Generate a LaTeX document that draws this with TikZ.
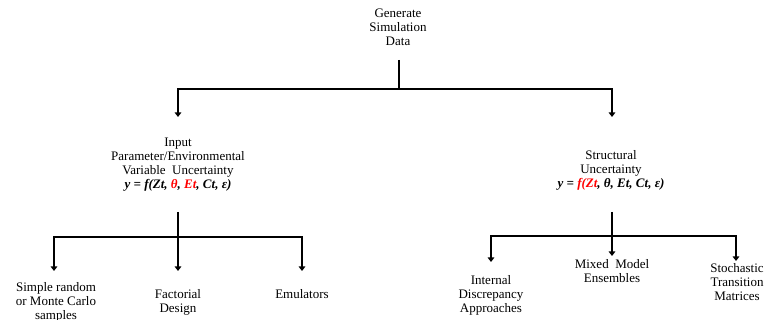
\documentclass[tikz,border=0pt]{standalone}
\usepackage{fontspec}
\setmainfont{Liberation Serif}
\usetikzlibrary{arrows.meta}
\tikzset{
  lbl/.style={align=center, inner sep=0pt, font=\fontsize{13}{14}\selectfont},
  ln/.style={line width=1.5pt},
  thk/.style={line width=2.5pt},
  arr/.style={line width=1.5pt, -{Triangle[width=6.5pt,length=4.5pt]}},
}
\begin{document}
\begin{tikzpicture}[x=1pt,y=-1pt]
\useasboundingbox (0,0) rectangle (764,320);
% nodes
\node[lbl] (g) at (398,27) {Generate\\Simulation\\Data};
\node[lbl] (inp) at (178,165) {Input\\Parameter/Environmental\\Variable\ \ Uncertainty\\\textbf{\textit{y = f(Zt, \textcolor{red}{θ}, \textcolor{red}{Et}, Ct, ε)}}};
\node[lbl] (str) at (611,170) {Structural\\Uncertainty\\\textbf{\textit{y = \textcolor{red}{f(Zt}, θ, Et, Ct, ε)}}};
\node[lbl] (a) at (56,302) {Simple random\\or Monte Carlo\\samples};
\node[lbl] (b) at (178,302) {Factorial\\Design};
\node[lbl] (c) at (302,294) {Emulators};
\node[lbl] (d) at (491,295) {Internal\\Discrepancy\\Approaches};
\node[lbl] (e) at (612,271) {Mixed\ \ Model\\Ensembles};
\node[lbl] (f) at (737,282) {Stochastic\\Transition\\Matrices};
% junctions and tips
\coordinate (j1) at (399,89);
\coordinate (s1) at (399,60);
\coordinate (t1) at (178,117);
\coordinate (t2) at (612,117);
\coordinate (jl) at (178,237);
\coordinate (sl) at (178,212);
\coordinate (jr) at (612,236);
\coordinate (sr) at (612,212);
\coordinate (ta) at (54,271);
\coordinate (tb) at (178,271);
\coordinate (tc) at (302,271);
\coordinate (td) at (491,262);
\coordinate (te) at (612,256);
\coordinate (tf) at (736,261);
% connectors
\draw[thk] (s1) -- (j1);
\draw[arr] (j1) -| (t1);
\draw[arr] (j1) -| (t2);
\draw[ln] (sl) -- (jl);
\draw[arr] (jl) -| (ta);
\draw[arr] (jl) -- (tb);
\draw[arr] (jl) -| (tc);
\draw[ln] (sr) -- (jr);
\draw[arr] (jr) -| (td);
\draw[arr] (jr) -- (te);
\draw[arr] (jr) -| (tf);
\end{tikzpicture}
\end{document}
